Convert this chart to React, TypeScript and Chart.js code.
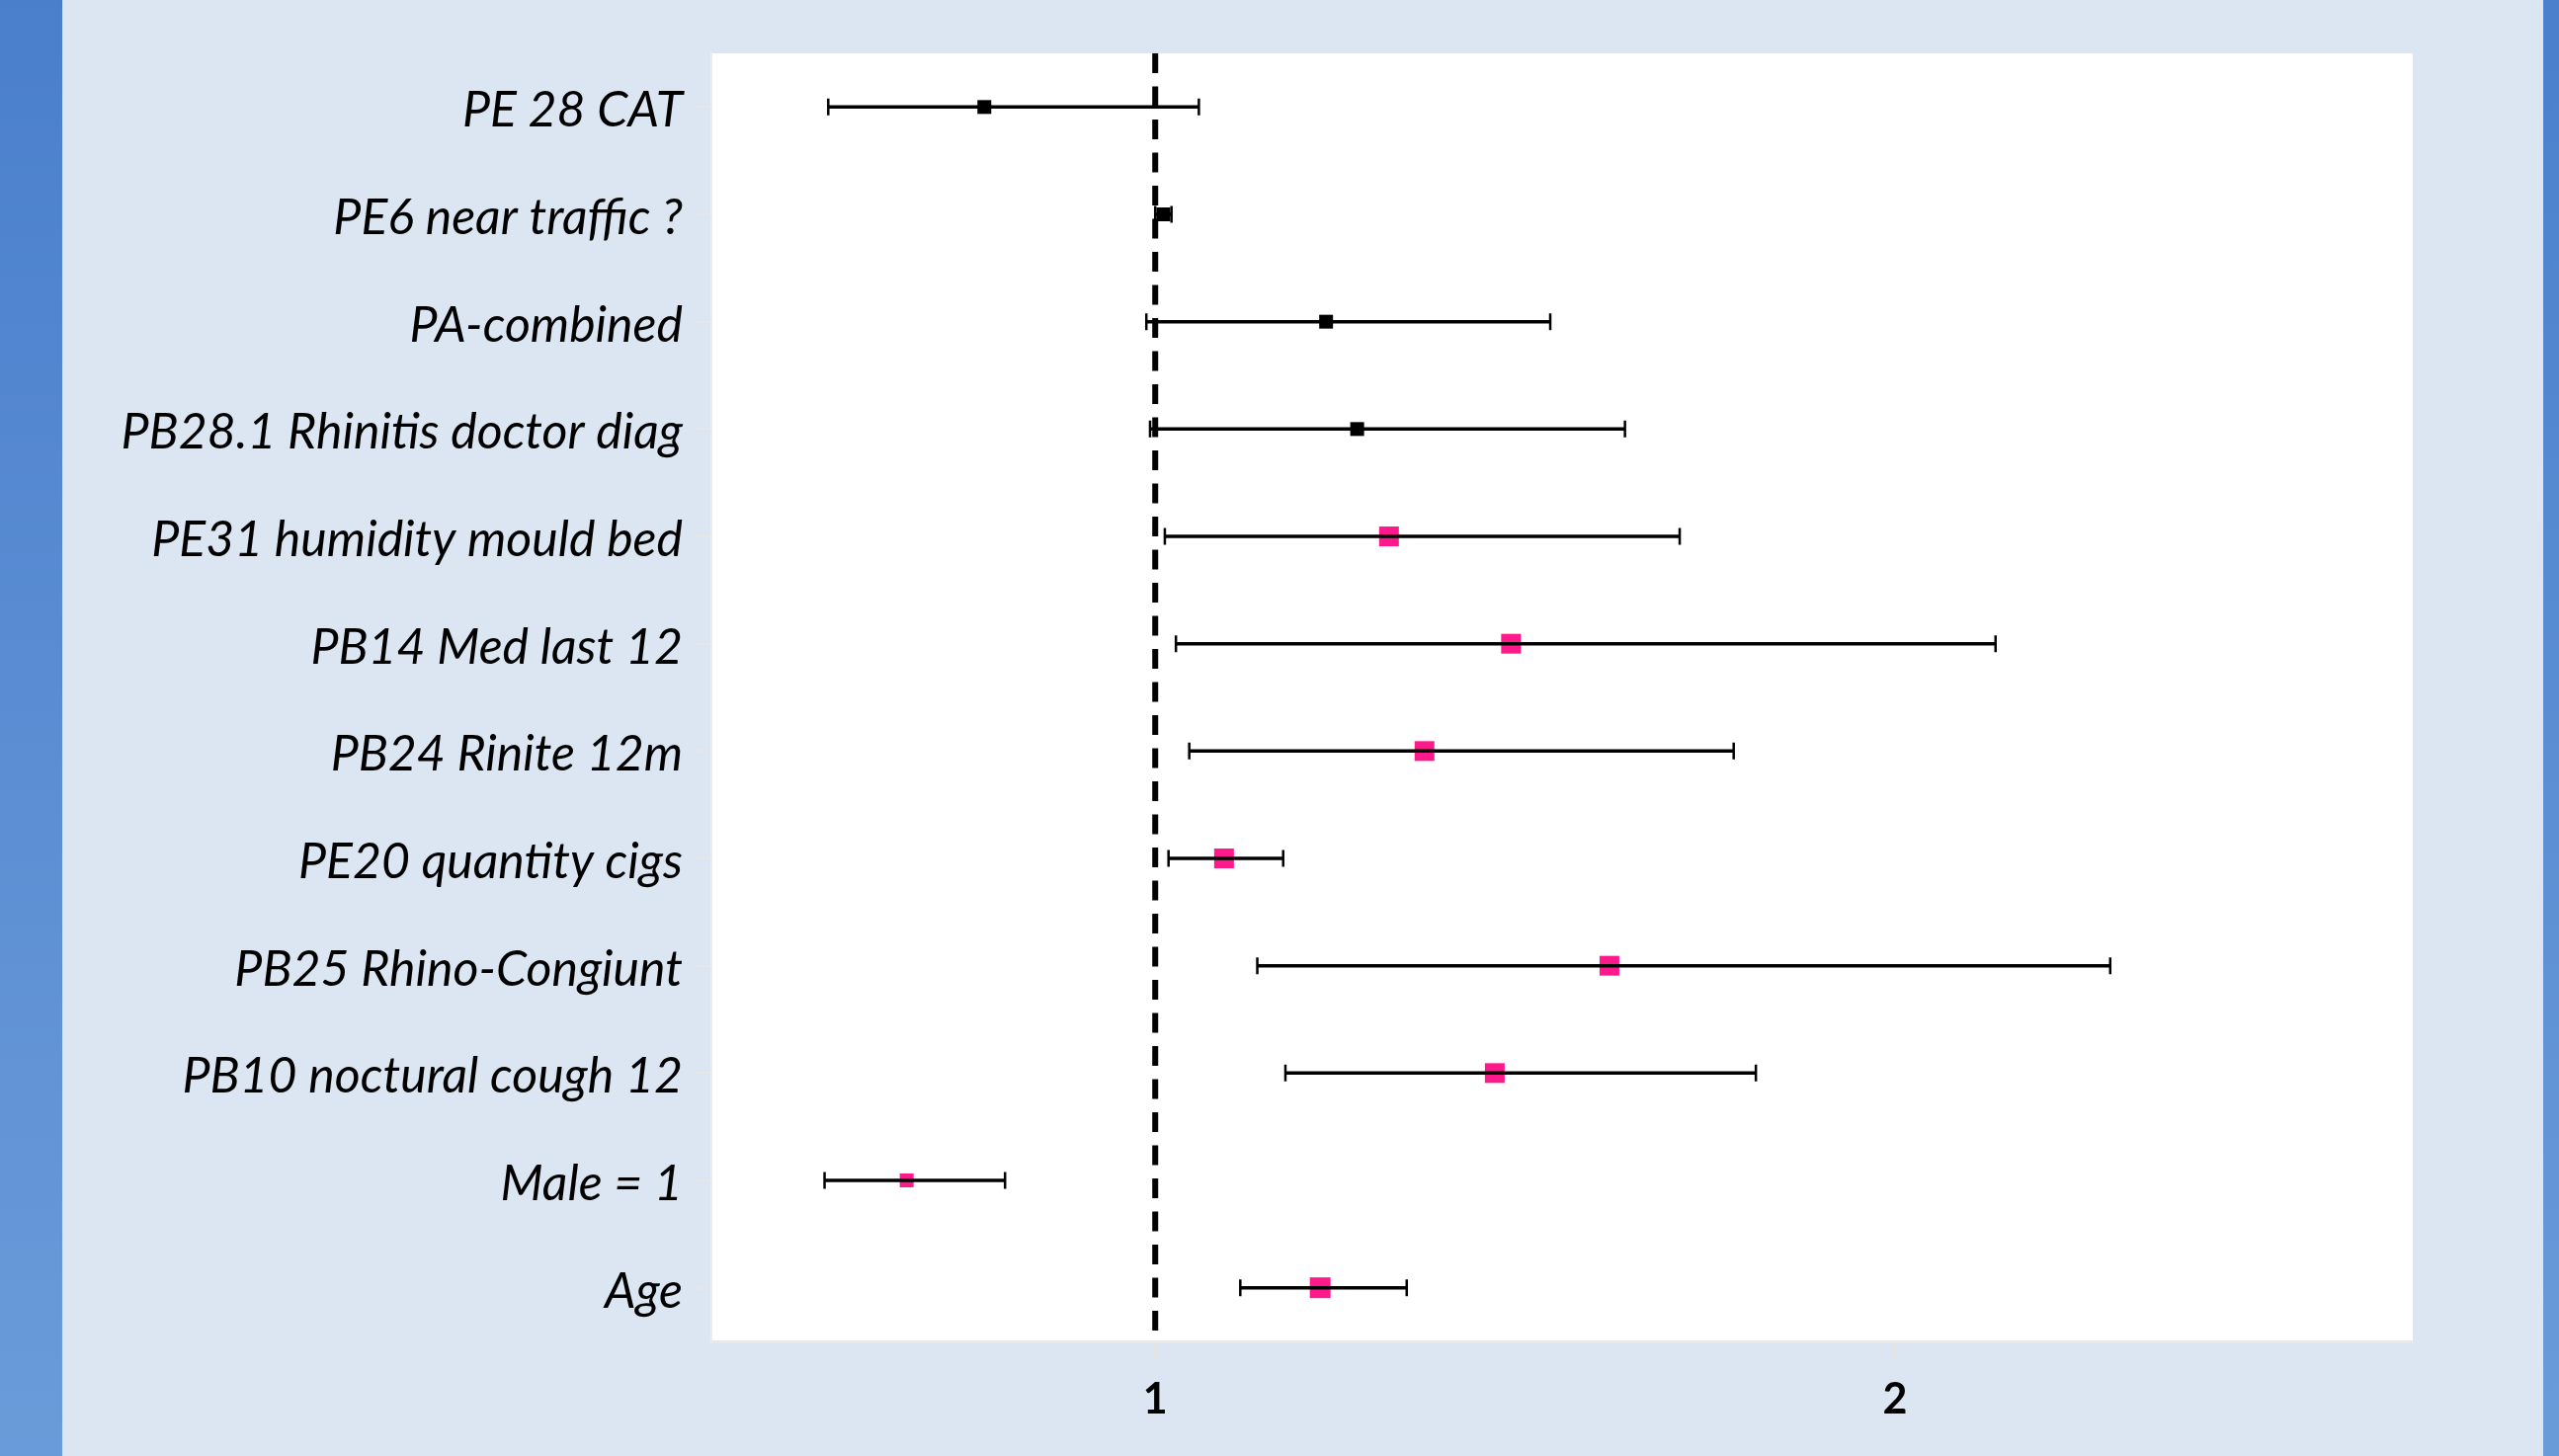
import React, { useEffect, useRef } from 'react';
import { Chart, registerables } from 'chart.js';

Chart.register(...registerables);

// ---------- data ----------
const categories = [
  'PE 28 CAT',
  'PE6 near traffic ?',
  'PA-combined',
  'PB28.1 Rhinitis doctor diag',
  'PE31 humidity mould bed',
  'PB14 Med last 12',
  'PB24 Rinite 12m',
  'PE20 quantity cigs',
  'PB25 Rhino-Congiunt',
  'PB10 noctural cough 12',
  'Male = 1',
  'Age',
];
const estimates = [0.769, 1.011, 1.231, 1.273, 1.316, 1.481, 1.364, 1.093, 1.614, 1.459, 0.664, 1.223];
const lowerCI = [0.558, 1.0, 0.988, 0.993, 1.013, 1.028, 1.046, 1.018, 1.138, 1.176, 0.553, 1.115];
const upperCI = [1.059, 1.022, 1.534, 1.635, 1.709, 2.136, 1.782, 1.173, 2.291, 1.812, 0.797, 1.34];
const groups = ['other', 'other', 'other', 'other', 'sig', 'sig', 'sig', 'sig', 'sig', 'sig', 'sig', 'sig'];
const xTickValues = [1, 2];
const referenceValue = 1;
const xMin = 0.4;
const xMax = 2.7;

// ---------- styles ----------
const groupColors: Record<string, string> = { other: '#000000', sig: '#ff1a8c' };
const markerSides = [14, 14, 14, 14, 20, 20, 20, 20, 20, 20, 14, 21];
const LABEL_FONT = 'Lato, "Open Sans", sans-serif';

const plotBackground = {
  id: 'plotBackground',
  beforeDraw(chart: any) {
    const { ctx, chartArea } = chart;
    ctx.save();
    ctx.fillStyle = '#ffffff';
    ctx.fillRect(chartArea.left, chartArea.top, chartArea.right - chartArea.left, chartArea.bottom - chartArea.top);
    ctx.restore();
  },
};

const errorBars = {
  id: 'errorBars',
  afterDatasetsDraw(chart: any) {
    const { ctx } = chart;
    const xs = chart.scales.x;
    const ys = chart.scales.y;
    ctx.save();
    ctx.strokeStyle = '#000000';
    ctx.lineCap = 'butt';
    for (let i = 0; i < categories.length; i++) {
      const py = ys.getPixelForValue(i + 1);
      const x1 = xs.getPixelForValue(lowerCI[i]);
      const x2 = xs.getPixelForValue(upperCI[i]);
      ctx.lineWidth = 3.5;
      ctx.beginPath();
      ctx.moveTo(x1, py);
      ctx.lineTo(x2, py);
      ctx.stroke();
      ctx.lineWidth = 2.5;
      ctx.beginPath();
      ctx.moveTo(x1, py - 8.5);
      ctx.lineTo(x1, py + 8.5);
      ctx.moveTo(x2, py - 8.5);
      ctx.lineTo(x2, py + 8.5);
      ctx.stroke();
    }
    ctx.restore();
  },
};

export default function App() {
  const ref = useRef<HTMLCanvasElement | null>(null);

  useEffect(() => {
    if (!ref.current) return;
    const chart = new Chart(ref.current, {
      type: 'scatter',
      data: {
        datasets: [
          {
            type: 'scatter',
            data: estimates.map((v, i) => ({ x: v, y: i + 1 })),
            pointStyle: 'rect',
            pointRadius: markerSides.map((s) => s / (2 * Math.SQRT1_2)),
            pointBackgroundColor: groups.map((g) => groupColors[g]),
            pointBorderWidth: 0,
            pointBorderColor: groups.map((g) => groupColors[g]),
            order: 1,
          } as any,
          {
            type: 'line',
            data: [
              { x: referenceValue, y: 0.5 },
              { x: referenceValue, y: 12.5 },
            ],
            borderColor: '#000000',
            borderWidth: 6,
            borderDash: [20, 13.5],
            pointRadius: 0,
            fill: false,
            order: 2,
          } as any,
        ],
      },
      options: {
        animation: false,
        responsive: false,
        devicePixelRatio: 1,
        layout: { padding: { top: 54, right: 148, bottom: 0, left: 0 } },
        plugins: { legend: { display: false }, tooltip: { enabled: false }, title: { display: false } },
        scales: {
          x: {
            type: 'linear',
            min: xMin,
            max: xMax,
            afterBuildTicks: (scale: any) => {
              scale.ticks = xTickValues.map((v) => ({ value: v }));
            },
            afterFit: (scale: any) => {
              scale.height = 116;
            },
            grid: {
              drawOnChartArea: false,
              drawTicks: true,
              tickLength: 17,
              color: '#e4e4e4',
              lineWidth: 3,
            },
            border: { display: true, color: '#e8e8e8', width: 3 },
            ticks: {
              padding: 16,
              color: '#000000',
              font: { family: LABEL_FONT, size: 43, weight: 'bold' },
              callback: (v: any) => String(v),
            },
          },
          y: {
            type: 'linear',
            reverse: true,
            min: 0.5,
            max: 12.5,
            afterBuildTicks: (scale: any) => {
              scale.ticks = categories.map((_, i) => ({ value: i + 1 }));
            },
            afterFit: (scale: any) => {
              scale.width = 720;
            },
            grid: {
              drawOnChartArea: false,
              drawTicks: true,
              tickLength: 16,
              color: '#e6e6e6',
              lineWidth: 2,
            },
            border: { display: true, color: '#ececec', width: 2 },
            ticks: {
              autoSkip: false,
              padding: 13,
              labelOffset: 4,
              color: '#000000',
              font: { family: LABEL_FONT, size: 50, style: 'italic' },
              callback: (v: any) => categories[Math.round(v) - 1] ?? '',
            },
          },
        },
      } as any,
      plugins: [plotBackground, errorBars],
    });
    return () => chart.destroy();
  }, []);

  return (
    <div
      style={{
        position: 'absolute',
        left: 0,
        top: 0,
        width: 2590,
        height: 1474,
        background: '#dce6f2',
        overflow: 'hidden',
      }}
    >
      <div
        style={{
          position: 'absolute',
          left: 0,
          top: 0,
          width: 63,
          height: 1474,
          background: 'linear-gradient(#4a7fcc, #6a9bd9)',
        }}
      />
      <div
        style={{
          position: 'absolute',
          left: 2574,
          top: 0,
          width: 16,
          height: 1474,
          background: 'linear-gradient(#4a80cc, #6a9bd9)',
        }}
      />
      <canvas
        ref={ref}
        width={2590}
        height={1474}
        style={{ position: 'absolute', left: 0, top: 0, width: 2590, height: 1474 }}
      />
    </div>
  );
}
